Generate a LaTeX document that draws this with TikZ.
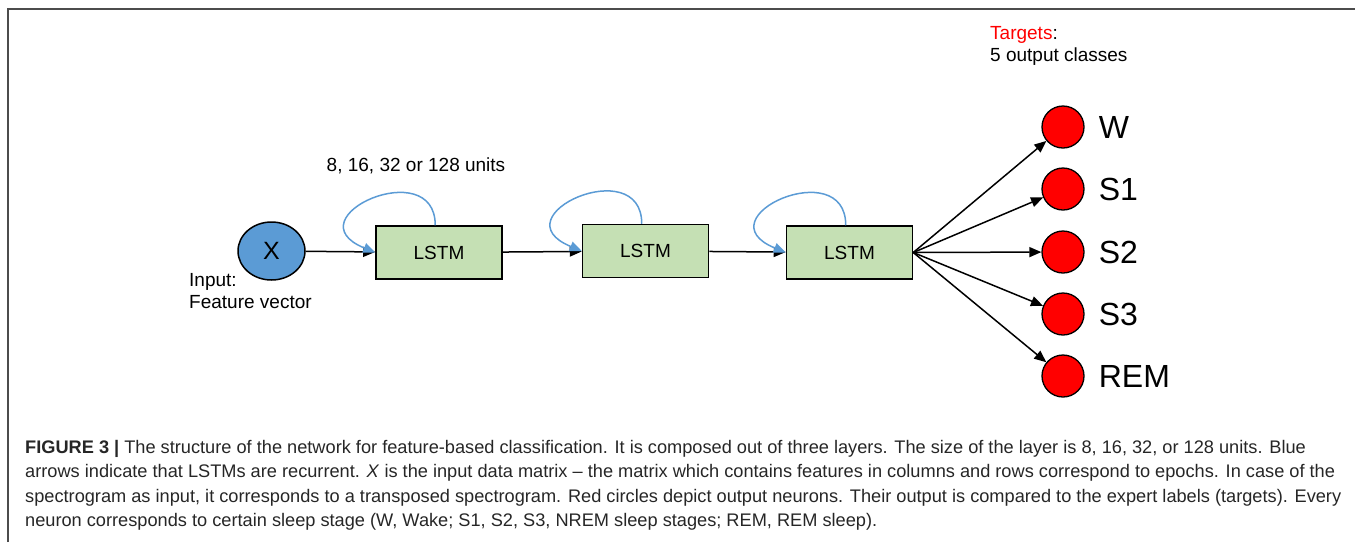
\documentclass[tikz,border=0pt]{standalone}
\usepackage{fontspec}
\setmainfont{Liberation Sans}
\newfontfamily\capfont[Ligatures=TeX]{Liberation Sans}
\usetikzlibrary{positioning,arrows.meta,shapes.geometric}
\definecolor{xblue}{HTML}{5B9BD5}
\definecolor{lstmgreen}{HTML}{C5E0B4}
\definecolor{outred}{HTML}{FF0000}

\begin{document}
\begin{tikzpicture}[x=1pt,y=-1pt,
    every node/.style={inner sep=0pt},
    txt/.style={font=\fontsize{19}{22}\selectfont},
    lstm/.style={draw=black,line width=1.5pt,fill=lstmgreen,minimum width=126pt,minimum height=53pt,txt},
    inpt/.style={ellipse,draw=black,line width=1.5pt,fill=xblue,minimum width=67pt,minimum height=58pt,font=\fontsize{25}{25}\selectfont},
    outcls/.style={circle,draw=black,line width=1.3pt,fill=outred,minimum size=42pt},
    cls/.style={font=\fontsize{32}{32}\selectfont},
    fwd/.style={draw=black,line width=1.5pt,-{Triangle[length=12pt,width=10pt]}},
    recur/.style={draw=xblue,line width=1.5pt,-{Triangle[length=12pt,width=10pt]}},
    capline/.style={anchor=base west,font=\capfont\fontsize{18.2}{18.2}\selectfont,text=black!85}]
  \useasboundingbox (0,0) rectangle (1355,542);
  % frame
  \draw [black!70,line width=1.5pt] (8,542) -- (8,9) -- (1355,9);

  % input and layers
  \node [inpt] (x) at (271.5,251) {X};
  \node [txt,anchor=north west,align=left] (inlbl) at (189,273) {Input:\\Feature vector};
  \node [lstm] (lstma) at (439,252.5) {LSTM};
  \node [lstm] (lstmb) at (645.5,251) {LSTM};
  \node [lstm] (lstmc) at (849.5,252.5) {LSTM};
  \node [txt] (units) at (416,166) {8, 16, 32 or 128 units};
  \draw [fwd] (x) -- (lstma);
  \draw [fwd] (lstma) -- (lstmb);
  \draw [fwd] (lstmb) -- (lstmc);
  \foreach \ly in {lstma,lstmb,lstmc}
    \draw [recur] ([xshift=60pt]\ly.north west) .. controls +(0,-72) and +(-85,-35) .. (\ly.west);

  % outputs
  \node [txt,anchor=north west,align=left] (tgt) at (990,26) {\textcolor{outred}{Targets}:\\5 output classes};
  \foreach \nm/\lb/\yy in {w/W/127,sa/S1/189,sb/S2/252,sc/S3/314,rem/REM/376} {
    \node [outcls] (\nm) at (1063,\yy) {};
    \node [cls,right=14pt of \nm] (lbl\nm) {\lb};
    \draw [fwd] (lstmc.east) -- (\nm);
  }

  % caption
  \node [capline] (capa) at (25,453) {\textbf{FIGURE 3 |} The structure of the network for feature-based classification. It is composed out of three layers. The size of the layer is 8, 16, 32, or 128 units. Blue};
  \node [capline] (capb) at (25,477.5) {arrows indicate that LSTMs are recurrent. \textit{X} is the input data matrix – the matrix which contains features in columns and rows correspond to epochs. In case of the};
  \node [capline] (capc) at (25,502) {spectrogram as input, it corresponds to a transposed spectrogram. Red circles depict output neurons. Their output is compared to the expert labels (targets). Every};
  \node [capline] (capd) at (25,526.5) {neuron corresponds to certain sleep stage (W, Wake; S1, S2, S3, NREM sleep stages; REM, REM sleep).};
\end{tikzpicture}
\end{document}
